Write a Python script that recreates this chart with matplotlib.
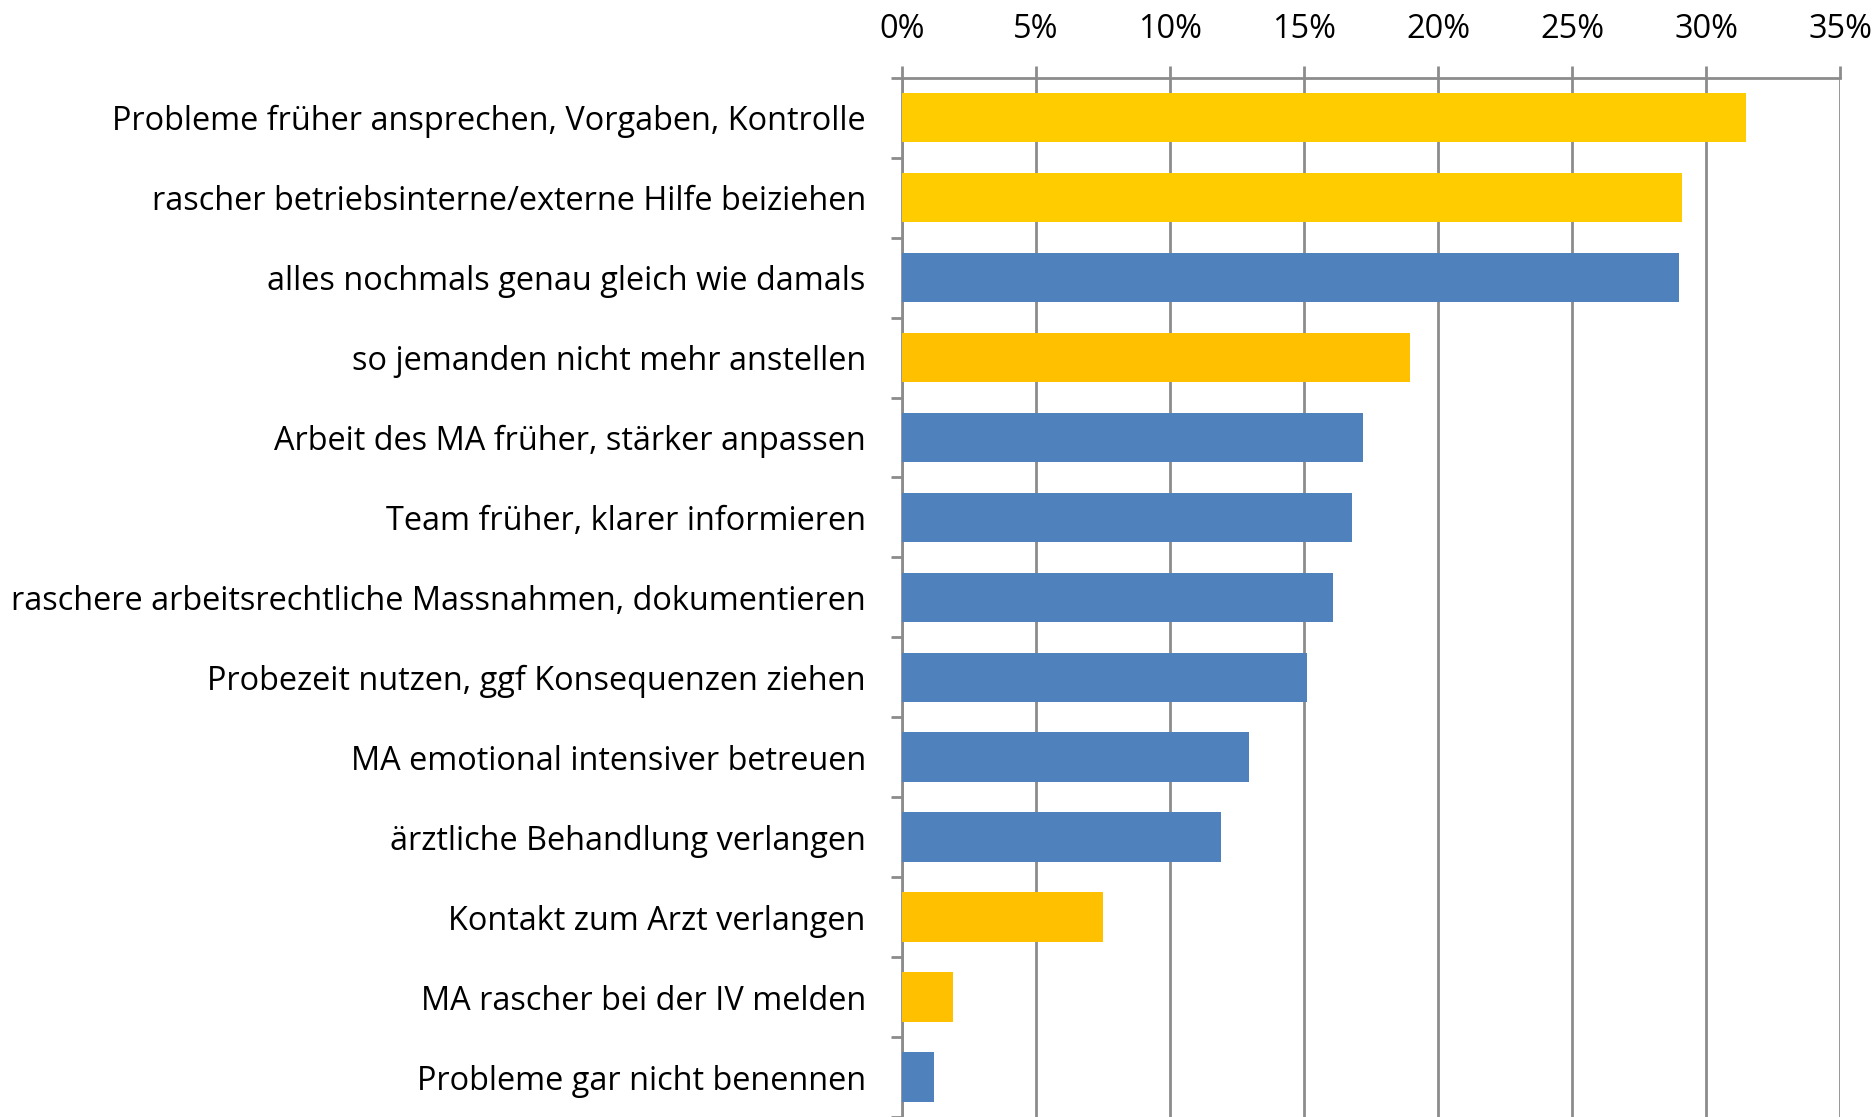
import numpy as np
import matplotlib.pyplot as plt

plt.rcParams['font.family'] = ['Open Sans', 'DejaVu Sans']

labels = [
    "Probleme früher ansprechen, Vorgaben, Kontrolle",
    "rascher betriebsinterne/externe Hilfe beiziehen",
    "alles nochmals genau gleich wie damals",
    "so jemanden nicht mehr anstellen",
    "Arbeit des MA früher, stärker anpassen",
    "Team früher, klarer informieren",
    "raschere arbeitsrechtliche Massnahmen, dokumentieren",
    "Probezeit nutzen, ggf Konsequenzen ziehen",
    "MA emotional intensiver betreuen",
    "ärztliche Behandlung verlangen",
    "Kontakt zum Arzt verlangen",
    "MA rascher bei der IV melden",
    "Probleme gar nicht benennen",
]
values = [31.5, 29.1, 29.0, 18.95, 17.2, 16.8, 16.1, 15.1, 12.95, 11.9, 7.5, 1.9, 1.2]
colors = ["#FFCC00", "#FFCC00", "#4F81BD", "#FFC000", "#4F81BD", "#4F81BD", "#4F81BD",
          "#4F81BD", "#4F81BD", "#4F81BD", "#FFC000", "#FFC000", "#4F81BD"]
xticks = [0, 5, 10, 15, 20, 25, 30, 35]

fig = plt.figure(figsize=(18.74, 11.17), dpi=100)
ax = fig.add_axes([0.4813, 0.0, 0.5006, 0.9304])

y = np.arange(len(labels))
ax.barh(y, values, height=0.62, color=colors, zorder=3)

ax.set_xlim(0, 35)
ax.set_ylim(len(labels) - 0.5, -0.5)
ax.set_xticks(xticks)
ax.set_xticklabels([f"{t}%" for t in xticks])
ax.xaxis.tick_top()
ax.grid(axis="x", color="#8c8c8c", linewidth=2, zorder=1)
ax.set_axisbelow(True)

ax.set_yticks(y)
ax.set_yticklabels(labels)
ax.set_yticks(np.arange(len(labels) + 1) - 0.5, minor=True)
ax.tick_params(axis="y", which="major", length=0, pad=26, labelsize=23.4)
ax.tick_params(axis="y", which="minor", length=8, width=2, color="#8c8c8c")
ax.tick_params(axis="x", which="major", length=8.5, width=2, color="#8c8c8c", pad=14, labelsize=23.4)

for s in ["right", "bottom"]:
    ax.spines[s].set_visible(False)
for s in ["left", "top"]:
    ax.spines[s].set_color("#8c8c8c")
    ax.spines[s].set_linewidth(2)

plt.savefig("out.png", dpi=100)
plt.close()
